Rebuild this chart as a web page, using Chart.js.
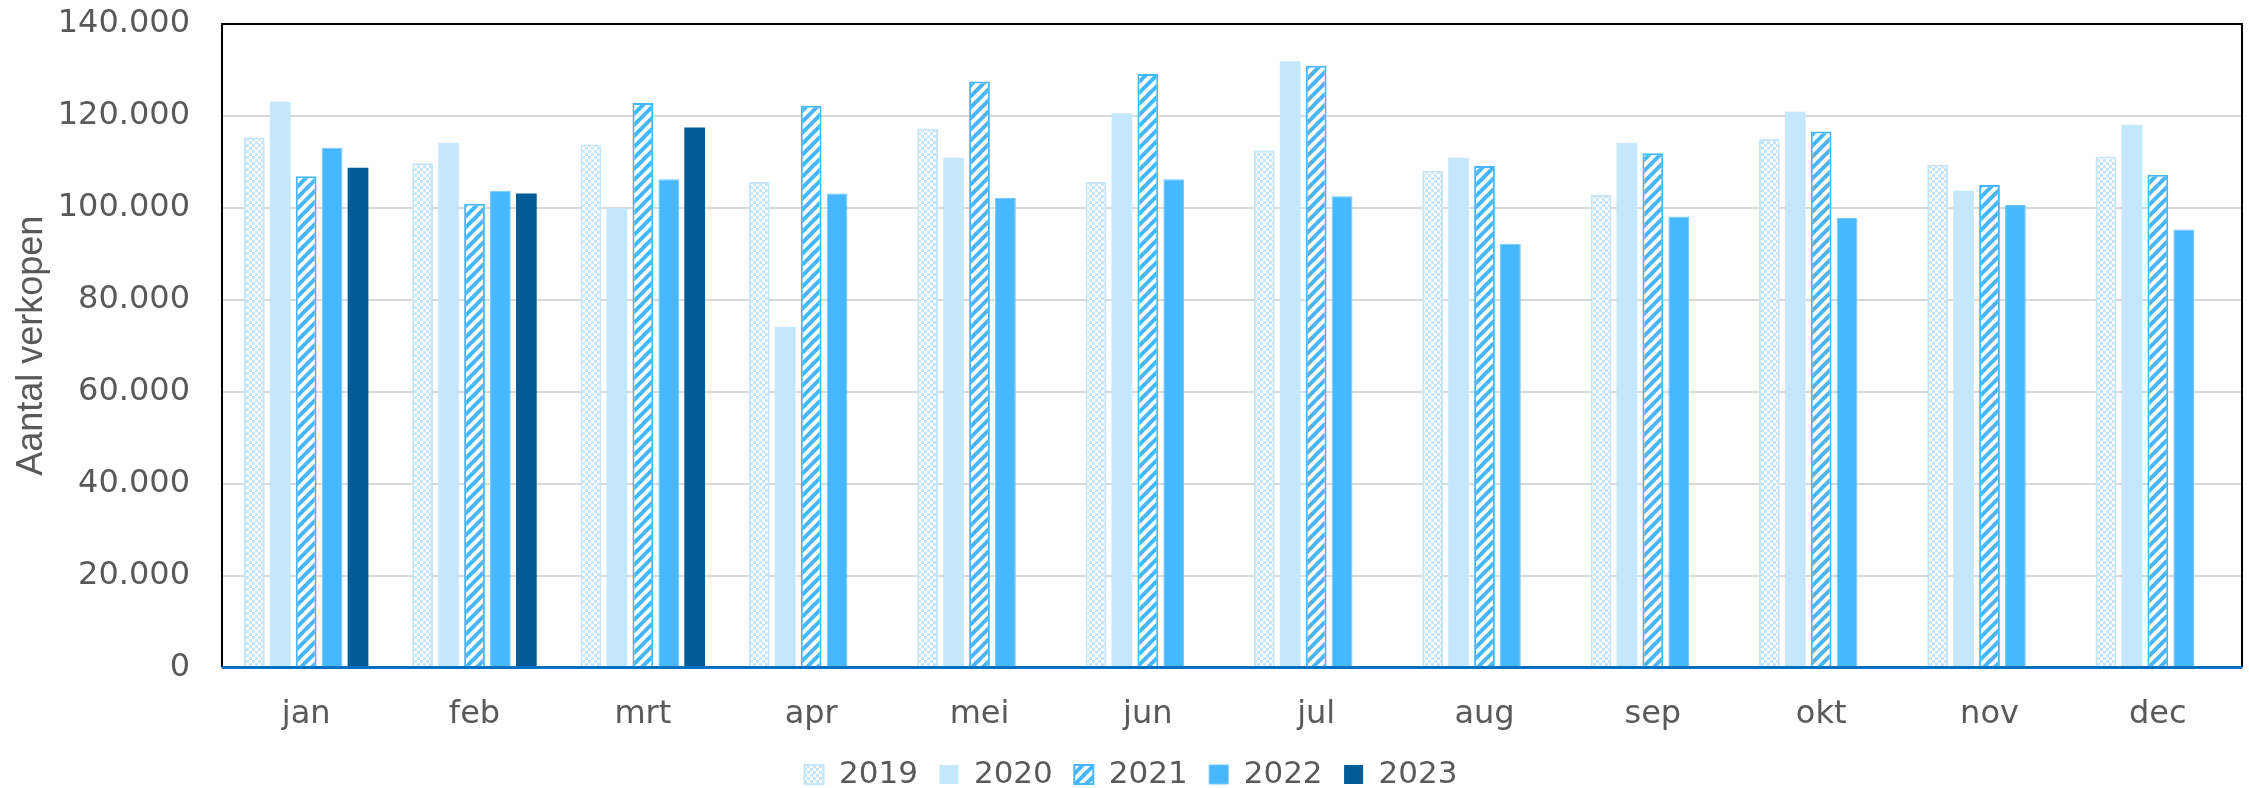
<!DOCTYPE html>
<html>
<head>
<meta charset="utf-8">
<script src="https://cdn.jsdelivr.net/npm/chart.js@4.4.1/dist/chart.umd.min.js"></script>
<style>
    html, body { margin: 0; padding: 0; background: #ffffff; }
    #wrap { width: 2249px; height: 788px; }
</style>
</head>
<body>
<div id="wrap"><canvas id="verkopen"></canvas></div>
<script>
const maanden = ['jan', 'feb', 'mrt', 'apr', 'mei', 'jun', 'jul', 'aug', 'sep', 'okt', 'nov', 'dec'];
const jaren = ['2019', '2020', '2021', '2022', '2023'];

const v2019 = [115300, 109700, 113800, 105600, 117200, 105600, 112500, 108100, 102800, 115000, 109400, 111200];
const v2020 = [123100, 114100, 100000, 74100, 110900, 120600, 131900, 110900, 114100, 120900, 103700, 118100];
const v2021 = [106900, 100900, 122800, 122200, 127500, 129100, 130900, 109100, 111900, 116600, 105000, 107200];
const v2022 = [113100, 103700, 106200, 103100, 102200, 106200, 102500, 92200, 98100, 97800, 100600, 95300];
const v2023 = [108700, 103100, 117500, null, null, null, null, null, null, null, null, null];

const yTicks = [0, 20000, 40000, 60000, 80000, 100000, 120000, 140000];

const tekstFont = "'DejaVu Sans', Verdana, sans-serif";

// checkerboard fill for 2019
function checkerPattern(ctx) {
    const c = document.createElement('canvas');
    c.width = 6; c.height = 6;
    const p = c.getContext('2d');
    p.fillStyle = '#ffffff';
    p.fillRect(0, 0, 6, 6);
    p.fillStyle = '#c5e5fb';
    p.fillRect(0, 0, 3, 3);
    p.fillRect(3, 3, 3, 3);
    return ctx.createPattern(c, 'repeat');
}

// diagonal stripes for 2021
function stripePattern(ctx) {
    const n = 11;
    const c = document.createElement('canvas');
    c.width = n; c.height = n;
    const p = c.getContext('2d');
    p.fillStyle = '#ffffff';
    p.fillRect(0, 0, n, n);
    p.strokeStyle = '#47b6fc';
    p.lineWidth = 4;
    p.beginPath();
    p.moveTo(-1, n + 1); p.lineTo(n + 1, -1);
    p.moveTo(-3, 3); p.lineTo(3, -3);
    p.moveTo(n - 3, n + 3); p.lineTo(n + 3, n - 3);
    p.stroke();
    return ctx.createPattern(c, 'repeat');
}

function puntGetal(v) {
    return String(v).replace(/\B(?=(\d{3})+(?!\d))/g, '.');
}

// black frame on left, top and right of the plot area, blue base line
const kader = {
    id: 'kader',
    afterDraw(chart) {
        const a = chart.chartArea;
        const ctx = chart.ctx;
        ctx.save();
        ctx.strokeStyle = '#000000';
        ctx.lineWidth = 2;
        ctx.beginPath();
        ctx.moveTo(a.left, a.bottom);
        ctx.lineTo(a.left, a.top);
        ctx.lineTo(a.right, a.top);
        ctx.lineTo(a.right, a.bottom);
        ctx.stroke();
        ctx.strokeStyle = '#0070c0';
        ctx.lineWidth = 3;
        ctx.beginPath();
        ctx.moveTo(a.left, a.bottom);
        ctx.lineTo(a.right, a.bottom);
        ctx.stroke();
        ctx.restore();
    }
};

const canvas = document.getElementById('verkopen');
const ctx = canvas.getContext('2d');

new Chart(ctx, {
    type: 'bar',
    data: {
        labels: maanden,
        datasets: [
            { label: jaren[0], data: v2019, backgroundColor: checkerPattern(ctx), borderColor: '#c5e5fb', borderWidth: 2 },
            { label: jaren[1], data: v2020, backgroundColor: '#c5e7fc', borderColor: '#c5e7fc', borderWidth: 0 },
            { label: jaren[2], data: v2021, backgroundColor: stripePattern(ctx), borderColor: '#47b6fc', borderWidth: 2 },
            { label: jaren[3], data: v2022, backgroundColor: '#47b8fd', borderColor: '#6cc6fd', borderWidth: 1 },
            { label: jaren[4], data: v2023, backgroundColor: '#005b96', borderColor: '#005b96', borderWidth: 0 }
        ]
    },
    options: {
        responsive: true,
        maintainAspectRatio: false,
        animation: false,
        layout: { padding: { top: 0, right: 7, left: 20, bottom: -12 } },
        datasets: {
            bar: { categoryPercentage: 0.77, barPercentage: 0.8 }
        },
        plugins: {
            legend: {
                position: 'bottom',
                labels: {
                    color: '#595959',
                    font: { family: tekstFont, size: 31 },
                    boxWidth: 19,
                    boxHeight: 19,
                    padding: 21.5
                }
            },
            tooltip: { enabled: false }
        },
        scales: {
            x: {
                grid: { display: false, drawTicks: false },
                border: { display: false },
                afterFit: function (scale) {
                    scale.height = 70;
                },
                ticks: {
                    color: '#595959',
                    font: { family: tekstFont, size: 32 },
                    padding: 28
                }
            },
            y: {
                min: 0,
                max: 140000,
                afterBuildTicks: function (scale) {
                    scale.ticks = yTicks.map(v => ({ value: v }));
                },
                afterFit: function (scale) {
                    scale.width = 202;
                    scale.paddingTop = 24;
                    scale.paddingBottom = 10;
                },
                grid: { color: '#d9d9d9', lineWidth: 2, drawTicks: false },
                border: { display: false },
                ticks: {
                    color: '#595959',
                    font: { family: tekstFont, size: 32 },
                    padding: 32,
                    callback: v => puntGetal(v)
                },
                title: {
                    display: true,
                    text: 'Aantal verkopen',
                    color: '#595959',
                    font: { family: "'Liberation Sans', Arial, sans-serif", size: 36 },
                    padding: { top: -10, bottom: 0 }
                }
            }
        }
    },
    plugins: [kader]
});
</script>
</body>
</html>
